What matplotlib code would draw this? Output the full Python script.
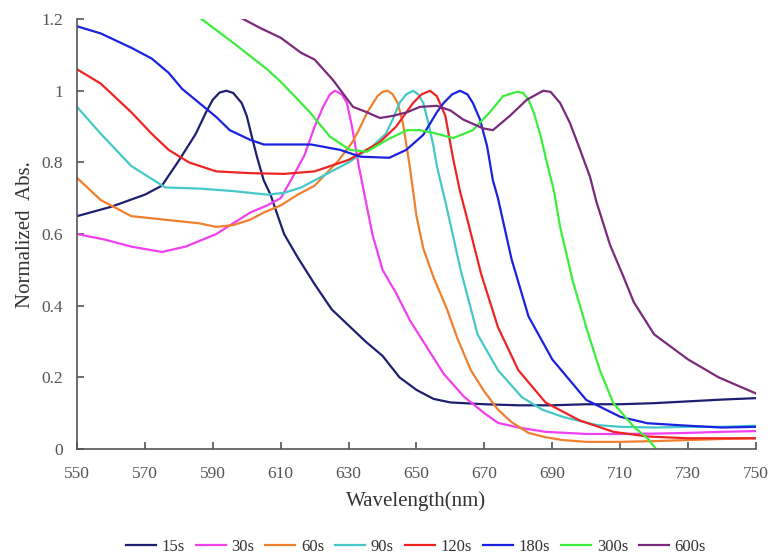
import matplotlib
matplotlib.use("Agg")
import matplotlib.pyplot as plt

plt.rcParams['font.family'] = ['Liberation Serif', 'DejaVu Serif']

labels = ["15s", "30s", "60s", "90s", "120s", "180s", "300s", "600s"]
colors = ["#1f1f72", "#f040f0", "#f08030", "#44c8c8", "#ee2424", "#1a22e0", "#3cee3c", "#7a2a7a"]

x15 = [550, 560, 570, 575, 580, 585, 588, 590, 592, 594, 596, 598.5, 600, 601.5, 603, 605, 607, 609, 611,
       615, 620, 625, 630, 635, 640, 645, 650, 655, 660, 670, 680, 690, 700, 710, 720, 730, 740, 750]
y15 = [0.65, 0.676, 0.71, 0.735, 0.805, 0.88, 0.94, 0.975, 0.995, 1.0, 0.994, 0.966, 0.93, 0.872, 0.816,
       0.75, 0.71, 0.655, 0.60, 0.535, 0.46, 0.39, 0.345, 0.30, 0.26, 0.20, 0.165, 0.14, 0.13, 0.125, 0.122,
       0.122, 0.125, 0.125, 0.128, 0.133, 0.138, 0.142]

x30 = [550, 558, 566, 575, 582, 591, 601, 606, 610, 613, 617, 620, 622.5, 624.5, 626, 628, 629.5, 631, 633,
       637, 640, 644, 648, 652, 658, 664, 670, 674, 680, 688, 700, 710, 720, 730, 740, 750]
y30 = [0.60, 0.585, 0.565, 0.55, 0.565, 0.60, 0.66, 0.68, 0.70, 0.75, 0.82, 0.90, 0.955, 0.99, 1.0, 0.99,
       0.966, 0.90, 0.79, 0.60, 0.50, 0.435, 0.36, 0.30, 0.21, 0.146, 0.10, 0.073, 0.06, 0.048, 0.042, 0.042,
       0.043, 0.045, 0.048, 0.05]

x60 = [550, 557, 566, 576, 586, 591, 596, 601, 605, 610, 615, 620, 627, 631, 633, 635.5, 638.5, 640, 641.5,
       643, 644.5, 646, 648, 650, 652, 655, 659, 662, 666, 670, 674, 678, 683, 688, 693, 700, 710, 720, 730,
       740, 750]
y60 = [0.757, 0.695, 0.65, 0.64, 0.63, 0.62, 0.625, 0.64, 0.66, 0.68, 0.71, 0.735, 0.805, 0.855, 0.89, 0.94,
       0.985, 0.997, 1.0, 0.99, 0.965, 0.91, 0.79, 0.65, 0.56, 0.48, 0.39, 0.31, 0.22, 0.16, 0.11, 0.075,
       0.045, 0.033, 0.025, 0.02, 0.02, 0.022, 0.025, 0.028, 0.03]

x90 = [550, 557, 566, 576, 586, 596, 606, 611, 616, 620, 630, 637, 641, 643, 645, 647, 649, 650.5, 652,
       653.5, 655, 656, 659, 663, 668, 674, 681, 687, 693, 703, 710, 720, 730, 740, 750]
y90 = [0.955, 0.88, 0.79, 0.73, 0.727, 0.72, 0.71, 0.715, 0.73, 0.75, 0.80, 0.845, 0.88, 0.92, 0.966, 0.99,
       1.0, 0.99, 0.966, 0.91, 0.845, 0.79, 0.67, 0.50, 0.32, 0.22, 0.145, 0.11, 0.09, 0.067, 0.062, 0.06,
       0.062, 0.062, 0.065]

x120 = [550, 557, 566, 572, 577, 583, 591, 601, 611, 620, 630, 639, 644, 649, 651.5, 654, 656, 658.5, 660.8,
        662.8, 665, 669, 674, 680, 688, 698, 708, 718, 730, 740, 750]
y120 = [1.06, 1.02, 0.94, 0.88, 0.835, 0.80, 0.775, 0.77, 0.768, 0.775, 0.807, 0.855, 0.90, 0.966, 0.99, 1.0,
        0.985, 0.93, 0.81, 0.72, 0.64, 0.49, 0.34, 0.22, 0.13, 0.08, 0.048, 0.035, 0.03, 0.03, 0.03]

x180 = [550, 557, 566, 572, 577, 581, 586, 591, 595, 601, 605, 613, 619, 627.5, 633.5, 642, 647, 652, 656,
        658, 660.5, 662.8, 665, 666.6, 668.7, 670.8, 672.5, 674, 678, 683, 690, 700, 710, 718, 730, 740, 750]
y180 = [1.18, 1.16, 1.12, 1.09, 1.05, 1.005, 0.966, 0.927, 0.89, 0.863, 0.85, 0.85, 0.85, 0.835, 0.816, 0.813,
        0.835, 0.877, 0.94, 0.966, 0.99, 1.0, 0.99, 0.966, 0.92, 0.845, 0.75, 0.70, 0.53, 0.37, 0.25, 0.137,
        0.09, 0.072, 0.065, 0.06, 0.062]

x300 = [586, 596, 606, 610, 616, 618.6, 624.5, 630.4, 635.4, 641.3, 647.2, 651, 656, 660.8, 666.6, 671.6,
        675.5, 679.6, 681.4, 683, 684.5, 686.4, 688.4, 690.5, 692.3, 696, 700, 704, 708, 714, 718, 721]
y300 = [1.205, 1.134, 1.06, 1.025, 0.966, 0.94, 0.872, 0.835, 0.83, 0.863, 0.89, 0.89, 0.88, 0.868, 0.89,
        0.94, 0.985, 0.997, 0.994, 0.975, 0.94, 0.88, 0.80, 0.72, 0.62, 0.47, 0.34, 0.22, 0.128, 0.062, 0.03, -0.005]

x600 = [598, 604, 610, 616, 620, 625.4, 631.3, 635.4, 639.2, 643.1, 647.2, 651, 656, 660, 663.7, 669.6, 672.5,
        677.5, 682.5, 687.3, 689.5, 692.3, 695.2, 698.2, 701.1, 703, 707, 711, 714, 720, 730, 739, 750]
y600 = [1.205, 1.175, 1.148, 1.106, 1.087, 1.03, 0.955, 0.94, 0.924, 0.93, 0.94, 0.955, 0.958, 0.945, 0.92,
        0.895, 0.89, 0.93, 0.975, 1.0, 0.997, 0.966, 0.91, 0.835, 0.76, 0.69, 0.57, 0.48, 0.41, 0.32, 0.25,
        0.20, 0.155]

series_x = [x15, x30, x60, x90, x120, x180, x300, x600]
series_y = [y15, y30, y60, y90, y120, y180, y300, y600]

xticks = [550, 570, 590, 610, 630, 650, 670, 690, 710, 730, 750]
yticks = [0, 0.2, 0.4, 0.6, 0.8, 1.0, 1.2]
ytick_labels = ["0", "0.2", "0.4", "0.6", "0.8", "1", "1.2"]

fig = plt.figure(figsize=(7.73, 5.54), dpi=100)
ax = fig.add_axes([0.0996, 0.1895, 0.8784, 0.776])

for xs, ys, lab, c in zip(series_x, series_y, labels, colors):
    ax.plot(xs, ys, color=c, lw=1.6, label=lab, solid_joinstyle='round')

ax.set_xlim(550, 750)
ax.set_ylim(0, 1.2)
ax.set_xticks(xticks)
ax.set_yticks(yticks)
ax.set_yticklabels(ytick_labels)
for s in ['top', 'right']:
    ax.spines[s].set_visible(False)
for s in ['left', 'bottom']:
    ax.spines[s].set_color('#555555')
    ax.spines[s].set_linewidth(1.2)
ax.tick_params(direction='in', length=5, width=1.2, color='#555555', labelcolor='#555555', labelsize=12.5)
ax.tick_params(axis='x', pad=12)
ax.tick_params(axis='y', pad=10)

ax.set_xlabel("Wavelength(nm)", fontsize=15, color='#333333', labelpad=7)
ax.set_ylabel("Normalized  Abs.", fontsize=15, color='#333333')
ax.yaxis.set_label_coords(-0.062, 0.5)

fig.legend(loc='lower center', bbox_to_anchor=(0.538, -0.028), ncol=8, frameon=False,
           fontsize=12, handlelength=1.8, handletextpad=0.35, columnspacing=0.65,
           labelcolor='#333333')

fig.savefig("out.png", dpi=100)
